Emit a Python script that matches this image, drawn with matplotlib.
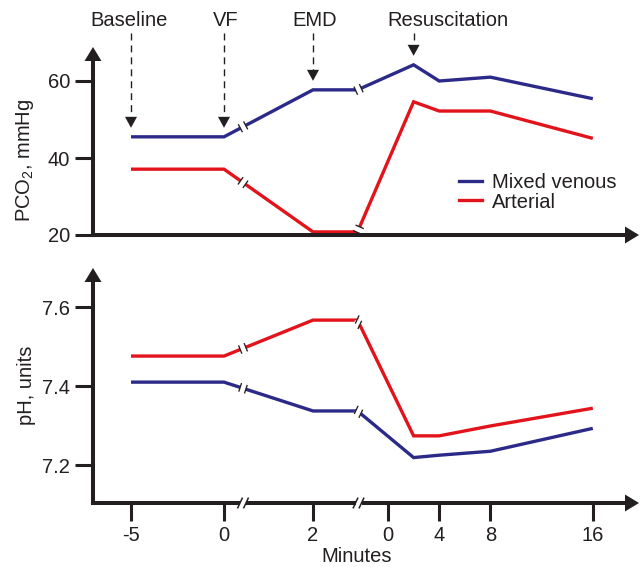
import numpy as np
import matplotlib
matplotlib.use('Agg')
import matplotlib.pyplot as plt
from matplotlib.lines import Line2D
from matplotlib.patches import Polygon
from matplotlib.transforms import IdentityTransform

plt.rcParams['font.family'] = ['Liberation Sans', 'DejaVu Sans']
plt.rcParams['mathtext.fontset'] = 'custom'
plt.rcParams['mathtext.rm'] = 'Liberation Sans'
plt.rcParams['mathtext.it'] = 'Liberation Sans:italic'
plt.rcParams['lines.scale_dashes'] = False

# ---------------- data ----------------
phase = ['pre', 'pre', 'vf', 'vf', 'res', 'res', 'res', 'res']
minutes = [-5, 0, 2, 3, 2, 4, 8, 16]
pco2_venous = [45.5, 45.5, 57.7, 57.7, 64.2, 60.0, 61.0, 55.4]
pco2_arterial = [37.1, 37.1, 20.8, 20.8, 54.6, 52.2, 52.2, 45.1]
ph_venous = [7.410, 7.410, 7.337, 7.337, 7.219, 7.225, 7.235, 7.293]
ph_arterial = [7.476, 7.476, 7.567, 7.567, 7.274, 7.274, 7.299, 7.344]

tick_phase = ['pre', 'pre', 'vf', 'res', 'res', 'res', 'res']
tick_minutes = [-5, 0, 2, 0, 4, 8, 16]
tick_labels = ['-5', '0', '2', '0', '4', '8', '16']

pco2_ticks = [20, 40, 60]
ph_ticks = [7.2, 7.4, 7.6]
ph_tick_labels = ['7.2', '7.4', '7.6']

events = ['Baseline', 'VF', 'EMD', 'Resuscitation']
event_phase = ['pre', 'pre', 'vf', 'res']
event_minutes = [-5, 0, 2, 2]

series_names = ['Mixed venous', 'Arterial']

# ---------------- style / layout ----------------
BLUE = '#2b2a88'
RED = '#e3131b'
INK = '#231f20'
FS = 14.5
W, H = 641, 567
ID = IdentityTransform()

# broken time axis: each phase has its own origin/scale on the drawing axis
ORIGIN = {'pre': 224.0, 'vf': 224.0, 'res': 388.0}
SCALE = {'pre': 18.6, 'vf': 44.5, 'res': 12.8}
BREAKS = [243.0, 358.5]
TEXT_DX = [-2, 2, 2, 34]


def pos(ph, m):
    return ORIGIN[ph] + SCALE[ph] * m


fig = plt.figure(figsize=(W / 100, H / 100), dpi=100)


def rect(left, right, top, bottom):
    return [left / W, 1 - bottom / H, (right - left) / W, (bottom - top) / H]


ax1 = fig.add_axes(rect(93, 639, 47, 235))
ax2 = fig.add_axes(rect(93, 639, 268, 503))
for ax in (ax1, ax2):
    ax.set_xlim(93, 639)
    ax.patch.set_visible(False)
    for s in ax.spines.values():
        s.set_visible(False)
ax1.set_ylim(20, 20 + 188 / 3.85)
ax2.set_ylim(7.104, 7.104 + 235 / 395)

x = np.array([pos(p, m) for p, m in zip(phase, minutes)])

line_kw = dict(lw=2.4, solid_joinstyle='miter', solid_capstyle='butt', zorder=3, clip_on=False)
ax1.plot(x, pco2_venous, color=BLUE, **line_kw)
ax1.plot(x, pco2_arterial, color=RED, **line_kw)
ax2.plot(x, ph_venous, color=BLUE, **line_kw)
ax2.plot(x, ph_arterial, color=RED, **line_kw)

# ticks
ax1.set_xticks([])
ax1.set_yticks(pco2_ticks)
ax2.set_yticks(ph_ticks)
ax2.set_yticklabels(ph_tick_labels)
ax2.set_xticks([pos(p, m) for p, m in zip(tick_phase, tick_minutes)])
ax2.set_xticklabels(tick_labels)
for ax in (ax1, ax2):
    ax.tick_params(axis='both', direction='out', length=13, width=2.2, color=INK,
                   labelsize=FS, labelcolor=INK, pad=3.5)


def seg(p, q, color, lw, z, capstyle='butt', **kw):
    fig.add_artist(Line2D([p[0], q[0]], [p[1], q[1]], color=color, lw=lw,
                          transform=ID, zorder=z, solid_capstyle=capstyle, **kw))


def tri(pts, z=4):
    fig.add_artist(Polygon(pts, closed=True, facecolor=INK, edgecolor='none',
                           transform=ID, zorder=z))


def draw_axes(ax):
    bb = ax.bbox
    x0, y0, x1, y1 = bb.x0, bb.y0, bb.x1, bb.y1
    hl, hw = 14, 17
    seg((x0, y0), (x0, y1 - hl + 1), INK, 2.9, 4, capstyle='projecting')
    seg((x0, y0), (x1 - hl + 1, y0), INK, 2.9, 4, capstyle='projecting')
    tri([[x0, y1], [x0 - hw / 2, y1 - hl], [x0 + hw / 2, y1 - hl]])
    tri([[x1, y0], [x1 - hl, y0 - hw / 2], [x1 - hl, y0 + hw / 2]])


draw_axes(ax1)
draw_axes(ax2)


def line_break(ax, b, xs, ys, angle=None, half=3.0, mark=9.0):
    c = ax.transData.transform((b, np.interp(b, xs, ys)))
    a0 = ax.transData.transform((b - 1.0, np.interp(b - 1.0, xs, ys)))
    a1 = ax.transData.transform((b + 1.0, np.interp(b + 1.0, xs, ys)))
    d = a1 - a0
    d = d / np.hypot(*d)
    p, q = c - d * half, c + d * half
    seg(p, q, 'white', 4.4, 5)
    if angle is None:
        n = np.array([-d[1], d[0]])
    else:
        a = np.deg2rad(angle)
        n = np.array([np.cos(a), np.sin(a)])
    for e in (p, q):
        seg(e - n * mark / 2, e + n * mark / 2, INK, 0.95, 6)


def axis_break(ax, b, half=3.0, mark=12.0):
    c = ax.transData.transform((b, ax.get_ylim()[0]))
    d = np.array([1.0, 0.0])
    p, q = c - d * half, c + d * half
    seg(p, q, 'white', 5.5, 5)
    a = np.deg2rad(65)
    n = np.array([np.cos(a), np.sin(a)])
    for e in (p, q):
        seg(e - n * mark / 2, e + n * mark / 2, INK, 1.1, 6)


for ax, ven, art, ang2 in ((ax1, pco2_venous, pco2_arterial, None),
                           (ax2, ph_venous, ph_arterial, 65)):
    for ys in (ven, art):
        line_break(ax, BREAKS[0], x, ys)
        line_break(ax, BREAKS[1], x, ys, angle=ang2)
for b in BREAKS:
    axis_break(ax2, b)

# event arrows
for name, ph, m, dx in zip(events, event_phase, event_minutes, TEXT_DX):
    u = pos(ph, m)
    v = np.interp(u, x, pco2_venous)
    tip = ax1.transData.transform((u, v)) + np.array([0, 9.0])
    hl, hw = 11, 12
    top_y = H - 33
    fig.add_artist(Line2D([tip[0], tip[0]], [top_y, tip[1] + hl], color=INK, lw=1.0,
                          dashes=(5, 3.6), transform=ID, zorder=4))
    tri([[tip[0], tip[1]], [tip[0] - hw / 2, tip[1] + hl], [tip[0] + hw / 2, tip[1] + hl]])
    fig.text((tip[0] + dx) / W, 1 - 20 / H, name, ha='center', va='center',
             fontsize=FS, color=INK)

# labels
fig.text(25 / W, 1 - 160 / H, 'PCO$_2$, mmHg', rotation=90, ha='center', va='center',
         fontsize=FS, color=INK)
fig.text(27 / W, 1 - 385 / H, 'pH, units', rotation=90, ha='center', va='center',
         fontsize=FS, color=INK)
fig.text(357 / W, 1 - 556 / H, 'Minutes', ha='center', va='center', fontsize=FS, color=INK)

# legend
handles = [Line2D([], [], color=BLUE, lw=2.4), Line2D([], [], color=RED, lw=2.4)]
leg = fig.legend(handles, series_names, loc='center left',
                 bbox_to_anchor=(459 / W, 1 - 192.5 / H), frameon=False, fontsize=FS,
                 handlelength=1.15, handletextpad=0.5, labelspacing=0.0,
                 borderpad=0, borderaxespad=0)
for t in leg.get_texts():
    t.set_color(INK)

fig.savefig('out.png', dpi=100)
